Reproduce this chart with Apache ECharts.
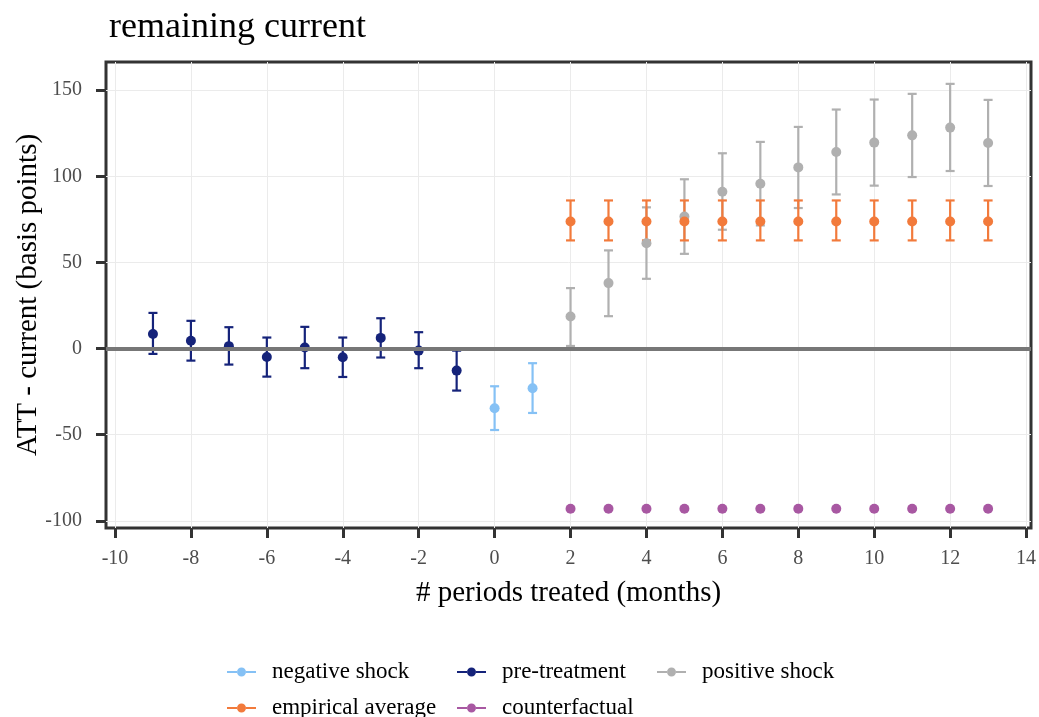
<!DOCTYPE html>
<html>
<head>
<meta charset="utf-8">
<script src="https://cdn.jsdelivr.net/npm/echarts@6/dist/echarts.min.js"></script>
<style>
html,body{margin:0;padding:0;background:#fff;}
#chart{width:1039px;height:717px;}
</style>
</head>
<body>
<div id="chart"></div>
<script>
// ---- data ----
var xTicks = [-10, -8, -6, -4, -2, 0, 2, 4, 6, 8, 10, 12, 14];
var yTicks = [-100, -50, 0, 50, 100, 150];

var negX  = [0, 1];
var negY  = [-34.7, -23.1];
var negLo = [-47.3, -37.4];
var negHi = [-21.9, -8.5];

var preX  = [-9, -8, -7, -6, -5, -4, -3, -2, -1];
var preY  = [8.5, 4.5, 1.4, -4.9, 0.6, -5.0, 6.2, -1.2, -12.8];
var preLo = [-3.1, -7.0, -9.3, -16.3, -11.4, -16.5, -5.2, -11.4, -24.4];
var preHi = [20.7, 16.1, 12.4, 6.4, 12.6, 6.4, 17.6, 9.5, -1.2];

var posX  = [2, 3, 4, 5, 6, 7, 8, 9, 10, 11, 12, 13];
var posY  = [18.6, 38.0, 61.2, 76.7, 91.1, 95.7, 105.2, 114.1, 119.6, 123.8, 128.3, 119.4];
var posLo = [1.5, 18.8, 40.5, 55.0, 69.0, 71.5, 81.6, 89.5, 94.6, 99.6, 103.1, 94.4];
var posHi = [35.1, 57.0, 82.0, 98.3, 113.4, 120.0, 128.7, 138.8, 144.6, 147.9, 153.7, 144.4];

var empX  = [2, 3, 4, 5, 6, 7, 8, 9, 10, 11, 12, 13];
var empY  = [73.8, 73.8, 73.8, 73.8, 73.8, 73.8, 73.8, 73.8, 73.8, 73.8, 73.8, 73.8];
var empLo = [62.8, 62.8, 62.8, 62.8, 62.8, 62.8, 62.8, 62.8, 62.8, 62.8, 62.8, 62.8];
var empHi = [86.0, 86.0, 86.0, 86.0, 86.0, 86.0, 86.0, 86.0, 86.0, 86.0, 86.0, 86.0];

var cfX   = [2, 3, 4, 5, 6, 7, 8, 9, 10, 11, 12, 13];
var cfY   = [-93.0, -93.0, -93.0, -93.0, -93.0, -93.0, -93.0, -93.0, -93.0, -93.0, -93.0, -93.0];

var NAMES = ['negative shock', 'pre-treatment', 'positive shock', 'empirical average', 'counterfactual'];
var COLORS = {
  'negative shock': '#85c1f5',
  'pre-treatment': '#15237a',
  'positive shock': '#b0b0b0',
  'empirical average': '#f27a3b',
  'counterfactual': '#a858a2'
};

var FONT = 'Liberation Serif';

function zip(xs, ys) { return xs.map(function (x, i) { return [x, ys[i]]; }); }
function zip3(xs, lo, hi) { return xs.map(function (x, i) { return [x, lo[i], hi[i]]; }); }

function errBar(name, xs, lo, hi) {
  var col = COLORS[name];
  return {
    type: 'custom',
    name: name + ' bars',
    z: 3,
    data: zip3(xs, lo, hi),
    encode: { x: 0, y: [1, 2] },
    silent: true,
    renderItem: function (params, api) {
      var x = api.value(0);
      var a = api.coord([x, api.value(1)]);
      var b = api.coord([x, api.value(2)]);
      var w = 4.5;
      var st = { stroke: col, lineWidth: 2.2 };
      return {
        type: 'group',
        children: [
          { type: 'line', shape: { x1: a[0], y1: a[1], x2: b[0], y2: b[1] }, style: st },
          { type: 'line', shape: { x1: a[0] - w, y1: a[1], x2: a[0] + w, y2: a[1] }, style: st },
          { type: 'line', shape: { x1: b[0] - w, y1: b[1], x2: b[0] + w, y2: b[1] }, style: st }
        ]
      };
    }
  };
}

function pts(name, xs, ys) {
  return {
    type: 'scatter',
    name: name,
    z: 4,
    data: zip(xs, ys),
    symbol: 'circle',
    symbolSize: 10,
    itemStyle: { color: COLORS[name], opacity: 1 },
    emphasis: { disabled: true }
  };
}

var ICON = 'path://M0,3.6L10.2,3.6L10.2,5.4L0,5.4Z M10,4.5A4.5,4.5 0 1,0 19,4.5A4.5,4.5 0 1,0 10,4.5Z M18.8,3.6L29,3.6L29,5.4L18.8,5.4Z';

var legendPos = [
  { left: 227, top: 660 },
  { left: 457, top: 660 },
  { left: 657, top: 660 },
  { left: 227, top: 696 },
  { left: 457, top: 696 }
];

var legends = NAMES.map(function (n, i) {
  return {
    data: [n],
    left: legendPos[i].left,
    top: legendPos[i].top,
    padding: 0,
    itemWidth: 29,
    itemHeight: 9,
    icon: ICON,
    selectedMode: false,
    textStyle: { fontFamily: FONT, fontSize: 23, color: '#000', lineHeight: 24, padding: [0, 0, 0, 11] }
  };
});

var series = [
  {
    type: 'line',
    name: 'zero',
    data: [],
    z: 2,
    silent: true,
    markLine: {
      silent: true,
      symbol: 'none',
      label: { show: false },
      lineStyle: { color: '#777777', width: 4, type: 'solid' },
      data: [{ yAxis: 0 }]
    }
  },
  errBar('negative shock', negX, negLo, negHi),
  errBar('pre-treatment', preX, preLo, preHi),
  errBar('positive shock', posX, posLo, posHi),
  errBar('empirical average', empX, empLo, empHi),
  pts('negative shock', negX, negY),
  pts('pre-treatment', preX, preY),
  pts('positive shock', posX, posY),
  pts('empirical average', empX, empY),
  pts('counterfactual', cfX, cfY)
];

var chart = echarts.init(document.getElementById('chart'), null, { renderer: 'canvas' });
chart.setOption({
  animation: false,
  backgroundColor: '#fff',
  title: {
    text: 'remaining current',
    left: 104,
    top: 5,
    textStyle: { fontFamily: FONT, fontSize: 36, fontWeight: 'normal', color: '#000' }
  },
  legend: legends,
  grid: {
    left: 106, right: 8, top: 62, bottom: 189,
    show: true, borderColor: '#333333', borderWidth: 3, backgroundColor: 'transparent',
    containLabel: false,
    outerBoundsMode: 'none'
  },
  xAxis: {
    type: 'value',
    min: -10.237,
    max: 14.13,
    splitNumber: 12,
    name: '# periods treated (months)',
    nameLocation: 'middle',
    nameGap: 51,
    nameMoveOverlap: false,
    nameTextStyle: { fontFamily: FONT, fontSize: 29, color: '#000' },
    axisLine: { show: false, onZero: false },
    axisTick: { show: true, length: 10, lineStyle: { color: '#333333', width: 3 }, customValues: xTicks },
    axisLabel: { fontFamily: FONT, fontSize: 20, color: '#4d4d4d', margin: 21, customValues: xTicks },
    splitLine: { show: true, lineStyle: { color: '#ebebeb', width: 1 } }
  },
  yAxis: {
    type: 'value',
    min: -104.2,
    max: 166.4,
    splitNumber: 6,
    name: 'ATT - current (basis points)',
    nameLocation: 'middle',
    nameGap: 63,
    nameMoveOverlap: false,
    nameRotate: 90,
    nameTextStyle: { fontFamily: FONT, fontSize: 29, color: '#000' },
    axisLine: { show: false, onZero: false },
    axisTick: { show: true, length: 10, lineStyle: { color: '#333333', width: 3 }, customValues: yTicks },
    axisLabel: { fontFamily: FONT, fontSize: 20, color: '#4d4d4d', margin: 24, customValues: yTicks },
    splitLine: { show: true, lineStyle: { color: '#ebebeb', width: 1 } }
  },
  series: series
});
</script>
</body>
</html>
